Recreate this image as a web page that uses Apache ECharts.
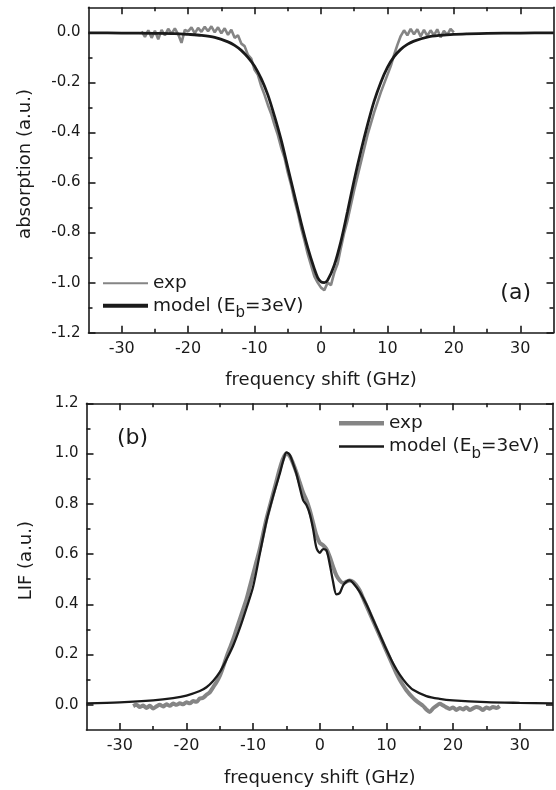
<!DOCTYPE html>
<html><head><meta charset="utf-8">
<script src="https://cdn.jsdelivr.net/npm/echarts@6/dist/echarts.min.js"></script>
<style>html,body{margin:0;padding:0;background:#fff}#c{width:556px;height:790px}</style>
</head><body><div id="c"></div>
<script>
// ---- tick values ----
const xMajorTicks = [-30, -20, -10, 0, 10, 20, 30];
const xMinorTicks = [-25, -15, -5, 5, 15, 25];
const yMajorA = [-1.2, -1.0, -0.8, -0.6, -0.4, -0.2, 0.0];
const yMinorA = [-1.1, -0.9, -0.7, -0.5, -0.3, -0.1];
const yMajorB = [0.0, 0.2, 0.4, 0.6, 0.8, 1.0, 1.2];
const yMinorB = [0.1, 0.3, 0.5, 0.7, 0.9, 1.1];

// ---- panel (a): absorption ----
const expA_x = [-27,-26.5,-26,-25.5,-25,-24.5,-24,-23.5,-23,-22.5,-22,-21.5,-21,-20.5,-20,-19.5,-19,-18.5,-18,-17.5,-17,-16.5,-16,-15.5,-15,-14.5,-14,-13.5,-13,-12.5,-12,-11.5,-11,-10.5,-10,-9.5,-9,-8.5,-8,-7.5,-7,-6.5,-6,-5.5,-5,-4.5,-4,-3.5,-3,-2.5,-2,-1.5,-1,-0.5,0,0.5,1,1.5,2,2.5,3,3.5,4,4.5,5,5.5,6,6.5,7,7.5,8,8.5,9,9.5,10,10.5,11,11.5,12,12.5,13,13.5,14,14.5,15,15.5,16,16.5,17,17.5,18,18.5,19,19.5,20];
const expA_y = [0.004,-0.018,0.008,-0.022,0.006,-0.028,0.01,-0.012,0.014,-0.006,0.016,-0.008,-0.042,0.01,0.004,0.02,-0.004,0.018,0.002,0.022,0.004,0.024,0.0,0.02,-0.004,0.016,-0.01,0.01,-0.022,-0.012,-0.045,-0.055,-0.09,-0.105,-0.15,-0.17,-0.215,-0.25,-0.29,-0.325,-0.37,-0.41,-0.46,-0.5,-0.56,-0.61,-0.67,-0.72,-0.78,-0.83,-0.885,-0.93,-0.975,-1.0,-1.02,-1.03,-1.0,-1.01,-0.96,-0.925,-0.86,-0.8,-0.75,-0.69,-0.63,-0.575,-0.52,-0.465,-0.41,-0.365,-0.32,-0.28,-0.24,-0.205,-0.17,-0.135,-0.09,-0.05,-0.015,0.008,-0.012,0.014,-0.008,0.012,-0.016,0.01,-0.014,0.008,-0.012,0.012,-0.02,0.006,-0.01,0.014,0.0];
const modelA_x = [-35,-30,-25,-22,-20,-18,-16,-14,-13,-12,-11,-10,-9,-8,-7,-6,-5,-4,-3,-2,-1,-0.5,0,0.5,1,2,3,4,5,6,7,8,9,10,11,12,13,14,16,18,20,22,25,30,35];
const modelA_y = [-0.002,-0.003,-0.004,-0.005,-0.008,-0.012,-0.02,-0.038,-0.052,-0.072,-0.1,-0.135,-0.185,-0.25,-0.335,-0.43,-0.54,-0.65,-0.76,-0.86,-0.945,-0.98,-0.997,-1.0,-0.99,-0.93,-0.835,-0.715,-0.59,-0.475,-0.37,-0.275,-0.2,-0.14,-0.097,-0.068,-0.048,-0.035,-0.019,-0.012,-0.008,-0.006,-0.004,-0.003,-0.002];

// ---- panel (b): LIF ----
const expB_x = [-28,-27.5,-27,-26.5,-26,-25.5,-25,-24.5,-24,-23.5,-23,-22.5,-22,-21.5,-21,-20.5,-20,-19.5,-19,-18.5,-18,-17.5,-17,-16.5,-16,-15.5,-15,-14.5,-14,-13.5,-13,-12.5,-12,-11.5,-11,-10.5,-10,-9.5,-9,-8.5,-8,-7.5,-7,-6.5,-6,-5.5,-5,-4.5,-4,-3.5,-3,-2.5,-2,-1.5,-1,-0.5,0,0.5,1,1.5,2,2.5,3,3.5,4,4.5,5,5.5,6,6.5,7,7.5,8,8.5,9,9.5,10,10.5,11,11.5,12,12.5,13,13.5,14,14.5,15,15.5,16,16.5,17,17.5,18,18.5,19,19.5,20,20.5,21,21.5,22,22.5,23,23.5,24,24.5,25,25.5,26,26.5,27];
const expB_y = [-0.005,0.0,-0.008,-0.003,-0.012,-0.004,-0.014,-0.006,0.0,-0.006,0.002,-0.004,0.005,0.0,0.006,0.002,0.01,0.006,0.015,0.012,0.025,0.028,0.04,0.05,0.07,0.09,0.115,0.15,0.19,0.225,0.26,0.3,0.34,0.38,0.42,0.47,0.52,0.57,0.62,0.68,0.74,0.79,0.84,0.89,0.94,0.98,1.0,0.99,0.96,0.925,0.885,0.845,0.815,0.775,0.725,0.675,0.645,0.635,0.62,0.59,0.55,0.515,0.495,0.485,0.49,0.495,0.49,0.475,0.455,0.425,0.395,0.365,0.335,0.305,0.275,0.245,0.215,0.185,0.155,0.125,0.1,0.078,0.058,0.042,0.028,0.016,0.006,-0.004,-0.018,-0.028,-0.014,-0.004,0.004,-0.002,-0.01,-0.016,-0.01,-0.02,-0.012,-0.018,-0.01,-0.02,-0.014,-0.008,-0.012,-0.02,-0.01,-0.015,-0.008,-0.012,-0.005];
const modelB_x = [-35,-30,-25,-22,-20,-18,-17,-16,-15,-14,-13,-12,-11,-10,-9,-8,-7,-6,-5.5,-5,-4.5,-4,-3.5,-3,-2.5,-2,-1.5,-1,-0.5,0,0.5,1,1.5,2,2.5,3,3.5,4,4.5,5,6,7,8,9,10,11,12,13,14,16,18,20,25,30,35];
const modelB_y = [0.006,0.01,0.018,0.027,0.037,0.055,0.07,0.095,0.13,0.18,0.235,0.305,0.385,0.47,0.6,0.73,0.83,0.92,0.97,1.005,0.995,0.96,0.92,0.865,0.815,0.795,0.76,0.7,0.625,0.605,0.62,0.615,0.56,0.49,0.44,0.445,0.475,0.49,0.495,0.485,0.45,0.4,0.34,0.28,0.22,0.165,0.12,0.085,0.06,0.035,0.024,0.018,0.011,0.008,0.006];

const FONT = 'DejaVu Sans';
const INK = '#1a1a1a';
const GRAY = '#858585';
const zip = (xs, ys) => xs.map((x, i) => [x, ys[i]]);
const fmt1 = v => Number(v).toFixed(1);

function axis(dim, grid, pos, ticks, len, extra) {
  const base = {
    type: 'value', gridIndex: grid, position: pos,
    min: dim === 'x' ? -35 : (grid === 0 ? -1.2 : -0.1),
    max: dim === 'x' ? 35 : (grid === 0 ? 0.1 : 1.2),
    axisLine: { show: false, onZero: false, lineStyle: { color: INK, width: 1.6 } },
    axisTick: { show: true, inside: true, length: len, customValues: ticks, lineStyle: { color: INK, width: 1.6 } },
    axisLabel: { show: false },
    splitLine: { show: false },
    minorTick: { show: false },
    minorSplitLine: { show: false }
  };
  return Object.assign(base, extra || {});
}
const lineOn = { show: true, onZero: false, lineStyle: { color: INK, width: 1.6 } };
const xLabel = { show: true, customValues: xMajorTicks, margin: 8, fontFamily: FONT, fontSize: 16, color: INK };
const xName = {
  name: 'frequency shift (GHz)', nameLocation: 'middle', nameGap: 39,
  nameTextStyle: { fontFamily: FONT, fontSize: 18, color: INK }
};

const xAxes = [
  axis('x', 0, 'bottom', xMajorTicks, 7, Object.assign({ axisLine: lineOn, axisLabel: xLabel }, xName)),
  axis('x', 0, 'bottom', xMinorTicks, 4),
  axis('x', 0, 'top', xMajorTicks, 7, { axisLine: lineOn }),
  axis('x', 0, 'top', xMinorTicks, 4),
  axis('x', 1, 'bottom', xMajorTicks, 7, Object.assign({ axisLine: lineOn, axisLabel: xLabel }, xName)),
  axis('x', 1, 'bottom', xMinorTicks, 4),
  axis('x', 1, 'top', xMajorTicks, 7, { axisLine: lineOn }),
  axis('x', 1, 'top', xMinorTicks, 4)
];
const yLabA = { show: true, customValues: yMajorA, margin: 8, fontFamily: FONT, fontSize: 15, color: INK, formatter: fmt1 };
const yLabB = { show: true, customValues: yMajorB, margin: 8, fontFamily: FONT, fontSize: 15, color: INK, formatter: fmt1 };
const yAxes = [
  axis('y', 0, 'left', yMajorA, 7, { axisLine: lineOn, axisLabel: yLabA,
    name: 'absorption (a.u.)', nameLocation: 'middle', nameGap: 54,
    nameTextStyle: { fontFamily: FONT, fontSize: 18, color: INK, padding: [0, 0, 0, 12] } }),
  axis('y', 0, 'left', yMinorA, 4),
  axis('y', 0, 'right', yMajorA, 7, { axisLine: lineOn }),
  axis('y', 0, 'right', yMinorA, 4),
  axis('y', 1, 'left', yMajorB, 7, { axisLine: lineOn, axisLabel: yLabB,
    name: 'LIF (a.u.)', nameLocation: 'middle', nameGap: 51,
    nameTextStyle: { fontFamily: FONT, fontSize: 18, color: INK, padding: [0, 0, 0, 12] } }),
  axis('y', 1, 'left', yMinorB, 4),
  axis('y', 1, 'right', yMajorB, 7, { axisLine: lineOn }),
  axis('y', 1, 'right', yMinorB, 4)
];

const legText = { fontFamily: FONT, fontSize: 18.5, color: INK, lineHeight: 20 };
const legRich = {
  fontFamily: FONT, fontSize: 18.5, color: INK,
  rich: {
    n: { fontFamily: FONT, fontSize: 18.5, color: INK, lineHeight: 18, verticalAlign: 'middle' },
    s: { fontFamily: FONT, fontSize: 15, color: INK, lineHeight: 15, padding: [9, 0, 0, 0], verticalAlign: 'top' }
  }
};
const modelLabel = () => '{n|model (E}{s|b}{n|=3eV)}';
function leg(name, left, top, h, textStyle, formatter) {
  return { data: [{ name: name, icon: 'rect' }], left: left, top: top, itemWidth: 45, itemHeight: h,
    padding: 0, selectedMode: false, orient: 'horizontal', textStyle: textStyle, formatter: formatter };
}

const option = {
  animation: false,
  backgroundColor: '#fff',
  grid: [
    { left: 88.5, top: 7.3, width: 465, height: 325.4, outerBoundsMode: 'none', containLabel: false },
    { left: 86.5, top: 403.3, width: 466.5, height: 326.7, outerBoundsMode: 'none', containLabel: false }
  ],
  xAxis: xAxes,
  yAxis: yAxes,
  legend: [
    leg('expA', 103, 273.3, 2, legText, () => 'exp'),
    leg('modelA', 103, 296.3, 4, legRich, modelLabel),
    leg('expB', 339, 413.3, 4.5, legText, () => 'exp'),
    leg('modelB', 339, 437, 2.5, legRich, modelLabel)
  ],
  series: [
    { name: 'expA', type: 'line', xAxisIndex: 0, yAxisIndex: 0, data: zip(expA_x, expA_y), showSymbol: false, symbol: 'none',
      itemStyle: { color: GRAY }, lineStyle: { color: GRAY, width: 2.6 }, z: 2 },
    { name: 'modelA', type: 'line', xAxisIndex: 0, yAxisIndex: 0, data: zip(modelA_x, modelA_y), showSymbol: false, symbol: 'none', smooth: 0.3,
      itemStyle: { color: INK }, lineStyle: { color: INK, width: 2.8 }, z: 3 },
    { name: 'expB', type: 'line', xAxisIndex: 4, yAxisIndex: 4, data: zip(expB_x, expB_y), showSymbol: false, symbol: 'none', smooth: 0.3,
      itemStyle: { color: GRAY }, lineStyle: { color: GRAY, width: 4 }, z: 2 },
    { name: 'modelB', type: 'line', xAxisIndex: 4, yAxisIndex: 4, data: zip(modelB_x, modelB_y), showSymbol: false, symbol: 'none', smooth: 0.3,
      itemStyle: { color: INK }, lineStyle: { color: INK, width: 2.3 }, z: 3 }
  ],
  graphic: [
    { type: 'text', x: 531, y: 293, style: { text: '(a)', font: '22px "DejaVu Sans"', fill: INK, align: 'right', verticalAlign: 'middle' } },
    { type: 'text', x: 117, y: 438.5, style: { text: '(b)', font: '22px "DejaVu Sans"', fill: INK, align: 'left', verticalAlign: 'middle' } }
  ]
};
const chart = echarts.init(document.getElementById('c'), null, { renderer: 'canvas' });
chart.setOption(option);
</script>
</body></html>
